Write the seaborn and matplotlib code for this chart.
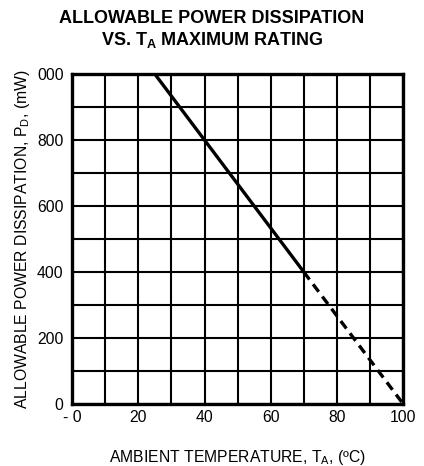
import pandas as pd
import seaborn as sns
import matplotlib.pyplot as plt

# Derating curve: rated power up to 25 C, falls to zero at 100 C
temp_solid = [25, 70]
power_solid = [1000, 400]
temp_dashed = [70, 100]
power_dashed = [400, 0]

x_ticks = [0, 20, 40, 60, 80, 100]
x_tick_labels = ['- 0', '20', '40', '60', '80', '100']
y_ticks = [0, 200, 400, 600, 800, 1000]
y_tick_labels = ['0', '200', '400', '600', '800', '000']

sns.set_style('white')
plt.rcParams['font.family'] = ['Liberation Sans', 'DejaVu Sans']
plt.rcParams['text.color'] = 'black'
plt.rcParams['axes.labelcolor'] = 'black'
plt.rcParams['xtick.color'] = 'black'
plt.rcParams['ytick.color'] = 'black'

fig = plt.figure(figsize=(4.24, 4.66), dpi=100)
ax = fig.add_axes([0.170, 0.133, 0.781, 0.708])

solid = pd.DataFrame({'temp': temp_solid, 'power': power_solid})
dashed = pd.DataFrame({'temp': temp_dashed, 'power': power_dashed})
sns.lineplot(data=solid, x='temp', y='power', ax=ax, color='black', linewidth=2.4)
sns.lineplot(data=dashed, x='temp', y='power', ax=ax, color='black', linewidth=2.4,
             linestyle=(0, (2.8, 1.8)))

ax.set_xlim(0, 100)
ax.set_ylim(0, 1000)
ax.set_xticks(x_ticks)
ax.set_xticklabels(x_tick_labels)
ax.set_yticks(y_ticks)
ax.set_yticklabels(y_tick_labels)
ax.set_xticks(range(0, 101, 10), minor=True)
ax.set_yticks(range(0, 1001, 100), minor=True)
ax.grid(True, which='both', color='black', linewidth=1.5)
ax.tick_params(which='both', length=0, labelsize=11.3, labelcolor='black')
ax.tick_params(axis='y', pad=6)
ax.tick_params(axis='x', pad=4)
for spine in ax.spines.values():
    spine.set_color('black')
    spine.set_linewidth(2.4)

ax.set_xlabel('AMBIENT TEMPERATURE, T$_{\\mathregular{A}}$, (ºC)', fontsize=11.3, labelpad=17)
ax.set_ylabel('ALLOWABLE POWER DISSIPATION, P$_{\\mathregular{D}}$, (mW)', fontsize=11.3, labelpad=4)

fig.text(0.5, 0.961, 'ALLOWABLE POWER DISSIPATION', ha='center', va='center',
         fontsize=13, fontweight='bold')
fig.text(0.5, 0.914, 'VS. T$_{\\mathregular{A}}$ MAXIMUM RATING', ha='center', va='center',
         fontsize=13, fontweight='bold')

plt.savefig('out.png', dpi=100)
plt.close()
